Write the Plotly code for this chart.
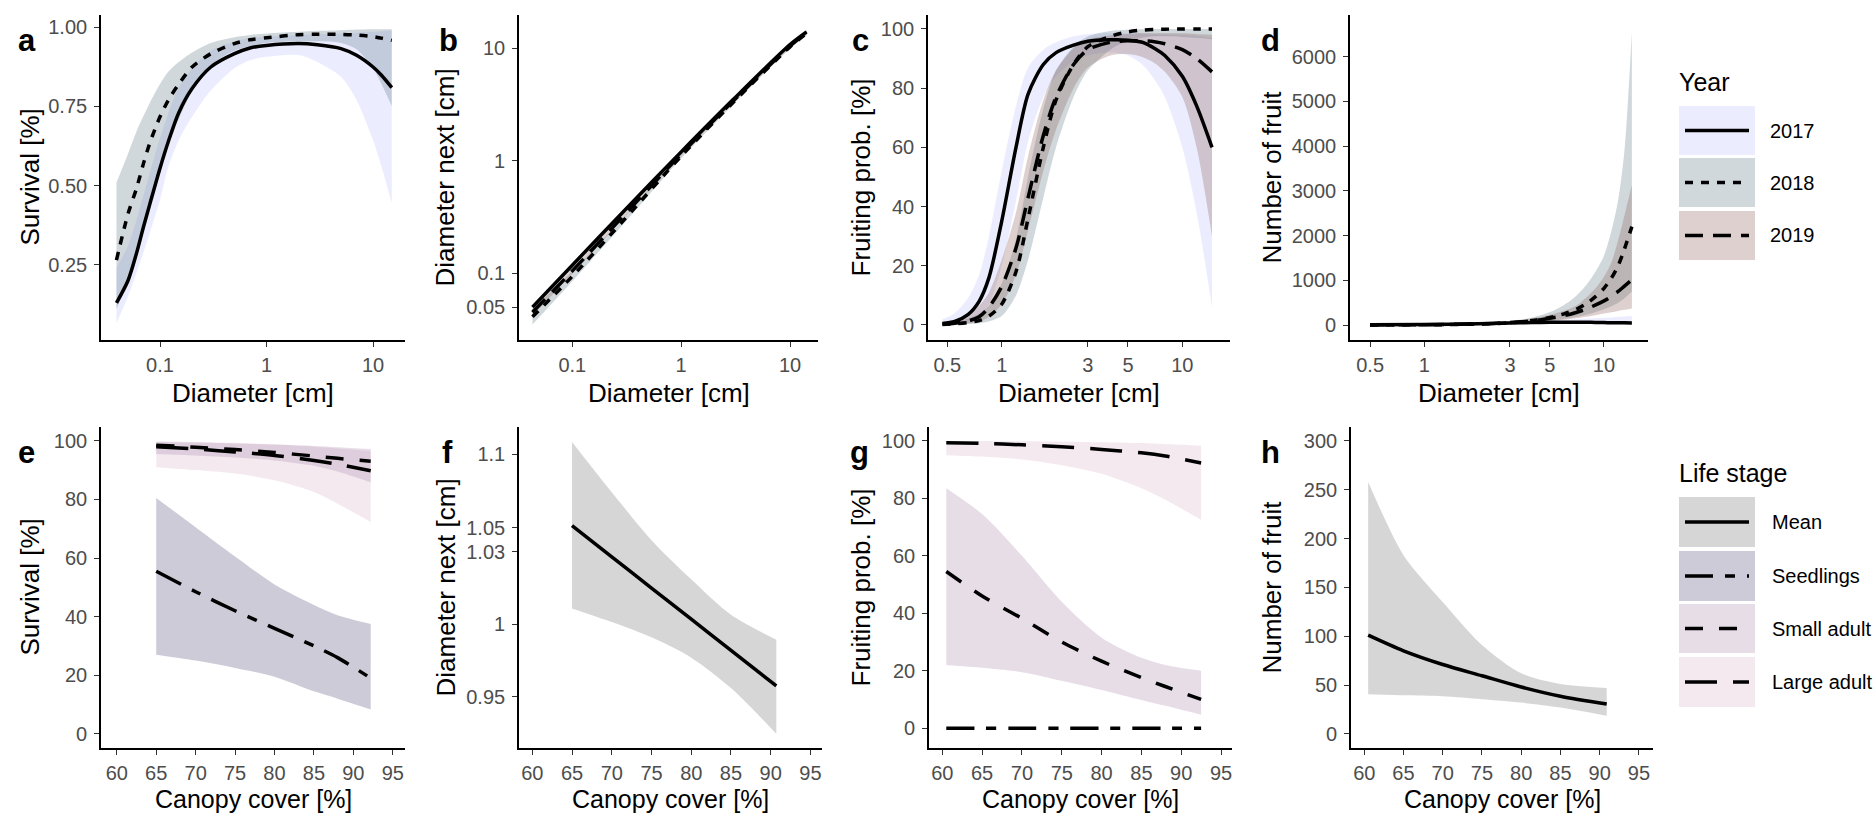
import plotly.graph_objects as go

W, H = 1876, 816

# ---------------- data ----------------
YEARS = ["2017", "2018", "2019"]
STAGES = ["Mean", "Seedlings", "Small adult", "Large adult"]

# panel a: survival vs diameter
A_X = [0.039, 0.05, 0.06, 0.07, 0.08, 0.1, 0.12, 0.15, 0.2, 0.3, 0.5, 0.7, 1, 2, 3, 5, 7, 10, 12, 15]
A_2017 = [0.13, 0.20, 0.285, 0.37, 0.44, 0.555, 0.64, 0.73, 0.806, 0.874, 0.916, 0.934, 0.942, 0.948, 0.944, 0.932, 0.911, 0.874, 0.848, 0.809]
A_2017_LO = [0.066, 0.15, 0.224, 0.29, 0.35, 0.455, 0.56, 0.643, 0.717, 0.80, 0.87, 0.895, 0.906, 0.912, 0.89, 0.843, 0.77, 0.643, 0.56, 0.444]
A_2017_HI = [0.24, 0.31, 0.39, 0.47, 0.54, 0.65, 0.73, 0.81, 0.87, 0.925, 0.955, 0.965, 0.97, 0.975, 0.978, 0.98, 0.982, 0.985, 0.987, 0.99]
A_2018 = [0.265, 0.41, 0.49, 0.57, 0.633, 0.717, 0.77, 0.82, 0.874, 0.916, 0.948, 0.96, 0.966, 0.976, 0.977, 0.977, 0.975, 0.97, 0.965, 0.958]
A_2018_LO = [0.11, 0.2, 0.3, 0.38, 0.45, 0.56, 0.64, 0.71, 0.8, 0.88, 0.925, 0.94, 0.95, 0.955, 0.955, 0.95, 0.93, 0.87, 0.82, 0.75]
A_2018_HI = [0.51, 0.6, 0.67, 0.72, 0.76, 0.82, 0.86, 0.89, 0.92, 0.95, 0.968, 0.975, 0.98, 0.985, 0.988, 0.99, 0.992, 0.993, 0.993, 0.993]

# panel b: diameter next vs diameter
B_X = [0.043, 0.1, 0.3, 1, 3, 10, 14.2]
B_2017 = [0.05, 0.118, 0.36, 1.2, 3.5, 10.8, 14]
B_2017_LO = [0.047, 0.112, 0.345, 1.16, 3.38, 10.4, 13.4]
B_2017_HI = [0.053, 0.124, 0.375, 1.24, 3.62, 11.2, 14.6]
B_2018 = [0.041, 0.094, 0.3, 1.1, 3.3, 10.3, 13.6]
B_2018_LO = [0.035, 0.085, 0.28, 1.05, 3.15, 9.9, 13]
B_2018_HI = [0.048, 0.104, 0.32, 1.15, 3.45, 10.7, 14.2]
B_2019 = [0.045, 0.105, 0.33, 1.15, 3.4, 10.5, 13.8]
B_2019_LO = [0.042, 0.099, 0.315, 1.11, 3.28, 10.1, 13.2]
B_2019_HI = [0.048, 0.111, 0.345, 1.19, 3.52, 10.9, 14.4]

# panel c: fruiting probability vs diameter
C_X = [0.47, 0.55, 0.65, 0.75, 0.85, 1.0, 1.2, 1.4, 1.7, 2, 2.5, 3, 4, 5, 6, 7, 8, 10, 12, 14.6]
C_2017 = [0.5, 1.2, 3.5, 8, 16, 35, 60, 78, 88, 92, 94.5, 95.8, 96.3, 96.2, 95.5, 93.5, 91, 84, 74, 60]
C_2017_LO = [0, 0.3, 1, 3, 7, 20, 42, 62, 77, 84, 89, 91, 92, 91, 88, 83, 77, 60, 38, 6]
C_2017_HI = [2, 4, 9, 17, 30, 52, 74, 87, 93, 95.5, 97.5, 98.2, 98.5, 98.5, 98.5, 98.3, 98.2, 98, 97.6, 97]
C_2018 = [0.2, 0.4, 0.8, 1.5, 3, 7, 18, 36, 60, 76, 88, 94, 97.5, 99, 99.6, 99.8, 99.9, 100, 100, 100]
C_2018_LO = [0, 0.1, 0.3, 0.6, 1.2, 3, 10, 22, 43, 60, 77, 86, 93, 96, 97, 97.5, 97.5, 97.3, 97, 96.5]
C_2018_HI = [0.6, 1.2, 2.2, 3.8, 6.5, 14, 29, 50, 73, 86, 94, 97.5, 99.3, 99.7, 99.9, 100, 100, 100, 100, 100]
C_2019 = [0.3, 0.6, 1.3, 2.8, 6, 13, 26, 43, 64, 77, 88, 93, 95.5, 96, 96, 95.7, 95, 93, 90, 85.5]
C_2019_LO = [0.05, 0.2, 0.5, 1.2, 2.8, 7, 17, 32, 52, 66, 80, 87, 91, 91.5, 90.5, 88.5, 85.5, 77, 60, 30]
C_2019_HI = [1, 1.8, 3.5, 6.5, 11, 22, 38, 57, 76, 86, 93.5, 96.5, 97.8, 98.3, 98.5, 98.5, 98.5, 98.5, 98.3, 98]

# panel d: number of fruit vs diameter
D_X = [0.5, 1, 2, 3, 4, 5, 6, 7, 8, 9, 10, 11, 12, 13, 14.3]
D_2017 = [5, 12, 30, 45, 55, 60, 62, 62, 60, 58, 55, 52, 50, 48, 45]
D_2017_LO = [2, 6, 15, 22, 25, 25, 24, 22, 20, 18, 16, 14, 12, 11, 10]
D_2017_HI = [10, 22, 50, 75, 95, 110, 120, 130, 140, 150, 160, 170, 180, 190, 200]
D_2018 = [1, 5, 20, 50, 100, 170, 250, 350, 480, 640, 820, 1050, 1330, 1700, 2200]
D_2018_LO = [0.5, 2.5, 10, 28, 55, 95, 135, 180, 230, 290, 350, 420, 500, 600, 750]
D_2018_HI = [3, 12, 40, 90, 170, 290, 450, 650, 900, 1200, 1550, 2100, 2800, 3900, 6550]
D_2019 = [2, 8, 25, 55, 95, 150, 210, 280, 360, 450, 540, 640, 750, 870, 1010]
D_2019_LO = [1, 4, 14, 32, 55, 85, 115, 150, 185, 220, 255, 285, 315, 340, 370]
D_2019_HI = [4, 14, 45, 90, 150, 230, 320, 430, 620, 830, 1080, 1400, 1900, 2450, 3130]

# panel e: survival vs canopy cover
E_X = [65, 70, 75, 80, 85, 88, 92.2]
E_SEED = [55.5, 48.5, 42, 36, 30, 26, 19]
E_SEED_LO = [27, 25, 22.5, 19.5, 14.5, 12, 8.3]
E_SEED_HI = [80.5, 70.5, 60.5, 51, 44, 40.5, 37.5]
E_SMALL = [98.5, 97.8, 97, 96, 94.8, 94, 93]
E_SMALL_LO = [95.5, 95, 94.3, 93.3, 91.5, 89.5, 85.8]
E_SMALL_HI = [99.6, 99.4, 99.1, 98.7, 98.2, 97.8, 97.2]
E_LARGE = [98, 97.2, 96.2, 95, 93.3, 92, 89.8]
E_LARGE_LO = [91, 90, 88.8, 86.5, 82.5, 78.5, 72.3]
E_LARGE_HI = [99.8, 99.6, 99.3, 98.8, 98, 97.4, 96.5]

# panel f: diameter next vs canopy cover (values in the panel's axis units)
F_X = [65, 70, 75, 80, 85, 90.7]
F_MEAN = [1.068, 1.0465, 1.025, 1.0035, 0.982, 0.9575]
F_LO = [1.0109, 1.0015, 0.991, 0.977, 0.956, 0.9245]
F_HI = [1.1257, 1.091, 1.058, 1.031, 1.0065, 0.9893]
F_TICKVALS = [0.95, 1.0, 1.05, 1.0666, 1.1173]
F_TICKTEXT = ["0.95", "1", "1.03", "1.05", "1.1"]

# panel g: fruiting probability vs canopy cover
G_X = [60.5, 65, 70, 75, 80, 85, 88, 92.5]
G_SEED = [0, 0, 0, 0, 0, 0, 0, 0]
G_SMALL = [54.5, 46, 38.2, 30, 23.3, 17.6, 14.5, 10]
G_SMALL_LO = [22, 21, 19.5, 16.5, 13.3, 9.8, 7.8, 4.7]
G_SMALL_HI = [83.5, 74.5, 60, 44, 31.5, 24.5, 22, 20]
G_LARGE = [99.3, 99.1, 98.6, 97.9, 97, 95.8, 94.7, 92.3]
G_LARGE_LO = [95, 94.5, 93.5, 91.5, 88.5, 83.5, 79.5, 72.5]
G_LARGE_HI = [99.9, 99.9, 99.8, 99.7, 99.5, 99.2, 98.9, 98.3]

# panel h: number of fruit vs canopy cover
H_X = [60.5, 65, 70, 75, 80, 85, 90.9]
H_MEAN = [101, 85, 71, 59.5, 48, 38.5, 30.5]
H_LO = [40.5, 39.5, 38.5, 35.5, 32, 27, 18.5]
H_HI = [258, 183, 135, 91, 62, 51, 47]

# ---------------- styles ----------------
FILL = {
    "2017": "rgba(188,195,255,0.3)",
    "2018": "rgba(98,125,138,0.3)",
    "2019": "rgba(142,98,92,0.3)",
    "Mean": "rgba(118,118,118,0.3)",
    "Seedlings": "rgba(92,82,125,0.3)",
    "Small adult": "rgba(175,142,175,0.3)",
    "Large adult": "rgba(215,182,202,0.3)",
}
DASH = {
    "2017": "solid", "2018": "8px,8px", "2019": "18px,10px",
    "Mean": "solid", "Seedlings": "28px,12px,10px,12px",
    "Small adult": "18px,16px", "Large adult": "32px,16px",
}
LW = 3.5
FONT = "Liberation Sans, Arial, sans-serif"

# panel boxes in pixels (left, right, top, bottom)
PANELS = [
    dict(key="a", box=(101, 405, 15, 340), xtype="log", xr=[-1.554, 1.30], yr=[0.013, 1.038],
         xt=[0.1, 1, 10], xtt=["0.1", "1", "10"], yt=[0.25, 0.5, 0.75, 1.0], ytt=["0.25", "0.50", "0.75", "1.00"],
         ytype="linear", xtitle="Diameter [cm]", ytitle="Survival [%]", ytx=29, lab=(27, 40)),
    dict(key="b", box=(519, 818, 15, 340), xtype="log", xr=[-1.49, 1.257], yr=[-1.593, 1.296],
         xt=[0.1, 1, 10], xtt=["0.1", "1", "10"], yt=[0.05, 0.1, 1, 10], ytt=["0.05", "0.1", "1", "10"],
         ytype="log", xtitle="Diameter [cm]", ytitle="Diameter next [cm]", ytx=444, lab=(448, 40)),
    dict(key="c", box=(928, 1230, 15, 340), xtype="log", xr=[-0.408, 1.264], yr=[-5.07, 104.7],
         xt=[0.5, 1, 3, 5, 10], xtt=["0.5", "1", "3", "5", "10"], yt=[0, 20, 40, 60, 80, 100],
         ytt=["0", "20", "40", "60", "80", "100"], ytype="linear", xtitle="Diameter [cm]",
         ytitle="Fruiting prob. [%]", ytx=860, lab=(860, 40)),
    dict(key="d", box=(1350, 1648, 15, 340), xtype="log", xr=[-0.413, 1.245], yr=[-335, 6932],
         xt=[0.5, 1, 3, 5, 10], xtt=["0.5", "1", "3", "5", "10"], yt=[0, 1000, 2000, 3000, 4000, 5000, 6000],
         ytt=["0", "1000", "2000", "3000", "4000", "5000", "6000"], ytype="linear", xtitle="Diameter [cm]",
         ytitle="Number of fruit", ytx=1271, lab=(1270, 40)),
    dict(key="e", box=(101, 405, 427, 748), xtype="linear", xr=[58.0, 96.55], yr=[-4.83, 104.7],
         xt=list(range(60, 96, 5)), xtt=[str(v) for v in range(60, 96, 5)], yt=[0, 20, 40, 60, 80, 100],
         ytt=["0", "20", "40", "60", "80", "100"], ytype="linear", xtitle="Canopy cover [%]",
         ytitle="Survival [%]", ytx=29, lab=(26, 452)),
    dict(key="f", box=(519, 822, 427, 748), xtype="linear", xr=[58.33, 96.45], yr=[0.9147, 1.136],
         xt=list(range(60, 96, 5)), xtt=[str(v) for v in range(60, 96, 5)], yt=F_TICKVALS, ytt=F_TICKTEXT,
         ytype="linear", xtitle="Canopy cover [%]", ytitle="Diameter next [cm]", ytx=445, lab=(447, 452)),
    dict(key="g", box=(929, 1232, 427, 748), xtype="linear", xr=[58.33, 96.38], yr=[-6.9, 104.8],
         xt=list(range(60, 96, 5)), xtt=[str(v) for v in range(60, 96, 5)], yt=[0, 20, 40, 60, 80, 100],
         ytt=["0", "20", "40", "60", "80", "100"], ytype="linear", xtitle="Canopy cover [%]",
         ytitle="Fruiting prob. [%]", ytx=860, lab=(859, 452)),
    dict(key="h", box=(1351, 1653, 427, 748), xtype="linear", xr=[58.31, 96.8], yr=[-14.5, 314.2],
         xt=list(range(60, 96, 5)), xtt=[str(v) for v in range(60, 96, 5)], yt=[0, 50, 100, 150, 200, 250, 300],
         ytt=["0", "50", "100", "150", "200", "250", "300"], ytype="linear", xtitle="Canopy cover [%]",
         ytitle="Number of fruit", ytx=1271, lab=(1270, 452)),
]

fig = go.Figure()


def ax_ids(i):
    return ("x", "y") if i == 1 else (f"x{i}", f"y{i}")


def ribbon(i, x, lo, hi, key):
    xa, ya = ax_ids(i)
    fig.add_trace(go.Scatter(x=x, y=lo, mode="lines", line=dict(width=0, shape="spline", smoothing=0.8),
                             hoverinfo="skip", showlegend=False, xaxis=xa, yaxis=ya))
    fig.add_trace(go.Scatter(x=x, y=hi, mode="lines", fill="tonexty", fillcolor=FILL[key],
                             line=dict(width=0, shape="spline", smoothing=0.8),
                             hoverinfo="skip", showlegend=False, xaxis=xa, yaxis=ya))


def curve(i, x, y, key):
    xa, ya = ax_ids(i)
    fig.add_trace(go.Scatter(x=x, y=y, mode="lines",
                             line=dict(color="black", width=LW, dash=DASH[key], shape="spline", smoothing=0.8),
                             hoverinfo="skip", showlegend=False, xaxis=xa, yaxis=ya))


# a
ribbon(1, A_X, A_2017_LO, A_2017_HI, "2017")
ribbon(1, A_X, A_2018_LO, A_2018_HI, "2018")
curve(1, A_X, A_2017, "2017")
curve(1, A_X, A_2018, "2018")
# b
ribbon(2, B_X, B_2017_LO, B_2017_HI, "2017")
ribbon(2, B_X, B_2018_LO, B_2018_HI, "2018")
ribbon(2, B_X, B_2019_LO, B_2019_HI, "2019")
curve(2, B_X, B_2019, "2019")
curve(2, B_X, B_2018, "2018")
curve(2, B_X, B_2017, "2017")
# c
ribbon(3, C_X, C_2017_LO, C_2017_HI, "2017")
ribbon(3, C_X, C_2018_LO, C_2018_HI, "2018")
ribbon(3, C_X, C_2019_LO, C_2019_HI, "2019")
curve(3, C_X, C_2017, "2017")
curve(3, C_X, C_2018, "2018")
curve(3, C_X, C_2019, "2019")
# d
ribbon(4, D_X, D_2017_LO, D_2017_HI, "2017")
ribbon(4, D_X, D_2018_LO, D_2018_HI, "2018")
ribbon(4, D_X, D_2019_LO, D_2019_HI, "2019")
curve(4, D_X, D_2018, "2018")
curve(4, D_X, D_2019, "2019")
curve(4, D_X, D_2017, "2017")
# e
ribbon(5, E_X, E_SEED_LO, E_SEED_HI, "Seedlings")
ribbon(5, E_X, E_LARGE_LO, E_LARGE_HI, "Large adult")
ribbon(5, E_X, E_SMALL_LO, E_SMALL_HI, "Small adult")
curve(5, E_X, E_SEED, "Seedlings")
curve(5, E_X, E_SMALL, "Small adult")
curve(5, E_X, E_LARGE, "Large adult")
# f
ribbon(6, F_X, F_LO, F_HI, "Mean")
curve(6, F_X, F_MEAN, "Mean")
# g
ribbon(7, G_X, G_SMALL_LO, G_SMALL_HI, "Small adult")
ribbon(7, G_X, G_LARGE_LO, G_LARGE_HI, "Large adult")
curve(7, G_X, G_SEED, "Seedlings")
curve(7, G_X, G_SMALL, "Small adult")
curve(7, G_X, G_LARGE, "Large adult")
# h
ribbon(8, H_X, H_LO, H_HI, "Mean")
curve(8, H_X, H_MEAN, "Mean")

layout = dict(width=W, height=H, margin=dict(l=0, r=0, t=0, b=0),
              paper_bgcolor="white", plot_bgcolor="white", showlegend=False,
              font=dict(family=FONT, color="black"))
annotations = []
shapes = []


def px_x(v):
    return v / W


def px_y(v):
    return 1 - v / H


for i, p in enumerate(PANELS, start=1):
    l, r, t, b = p["box"]
    xa, ya = ax_ids(i)
    common = dict(showline=True, linecolor="black", linewidth=1.6, ticks="outside", ticklen=5,
                  tickwidth=1.2, tickcolor="#333333", showgrid=False, zeroline=False,
                  tickfont=dict(family=FONT, size=20, color="#4D4D4D"))
    layout["xaxis" if i == 1 else f"xaxis{i}"] = dict(
        domain=[px_x(l), px_x(r)], anchor=ya, type=p["xtype"], range=p["xr"],
        tickmode="array", tickvals=p["xt"], ticktext=p["xtt"], ticklabelstandoff=1, **common)
    layout["yaxis" if i == 1 else f"yaxis{i}"] = dict(
        domain=[px_y(b), px_y(t)], anchor=xa, type=p["ytype"], range=p["yr"],
        tickmode="array", tickvals=p["yt"], ticktext=p["ytt"], ticklabelstandoff=3, **common)
    # axis titles
    top_row = t < 100
    annotations.append(dict(text=p["xtitle"], x=px_x((l + r) / 2), y=px_y(393 if top_row else 799),
                            xref="paper", yref="paper", showarrow=False, xanchor="center", yanchor="middle",
                            borderpad=0, font=dict(family=FONT, size=26 if top_row else 25, color="black")))
    annotations.append(dict(text=p["ytitle"], x=px_x(p["ytx"]), y=px_y((t + b) / 2), textangle=-90,
                            xref="paper", yref="paper", showarrow=False, xanchor="center", yanchor="middle",
                            borderpad=0, font=dict(family=FONT, size=26, color="black")))
    annotations.append(dict(text=f"<b>{p['key']}</b>", x=px_x(p["lab"][0]), y=px_y(p["lab"][1]),
                            xref="paper", yref="paper", showarrow=False, xanchor="center", yanchor="middle",
                            borderpad=0, font=dict(family=FONT, size=31, color="black")))


def legend(title, title_y, keys, tops, label_x):
    annotations.append(dict(text=title, x=px_x(1678), y=px_y(title_y), xref="paper", yref="paper",
                            showarrow=False, xanchor="left", yanchor="middle", borderpad=0,
                            font=dict(family=FONT, size=25, color="black")))
    for k, (y0, y1) in zip(keys, tops):
        shapes.append(dict(type="rect", xref="paper", yref="paper", x0=px_x(1679), x1=px_x(1755),
                           y0=px_y(y1), y1=px_y(y0), fillcolor=FILL[k], line=dict(width=0), layer="above"))
        yc = (y0 + y1) / 2
        shapes.append(dict(type="line", xref="paper", yref="paper", x0=px_x(1685), x1=px_x(1749),
                           y0=px_y(yc), y1=px_y(yc), line=dict(color="black", width=LW, dash=DASH[k]),
                           layer="above"))
        annotations.append(dict(text=k, x=px_x(label_x), y=px_y(yc), xref="paper", yref="paper",
                                showarrow=False, xanchor="left", yanchor="middle", borderpad=0,
                                font=dict(family=FONT, size=20, color="black")))


legend("Year", 82, YEARS, [(106, 155), (158, 207), (211, 260)], 1769)
legend("Life stage", 473, STAGES, [(497, 547), (551, 601), (604, 653), (657, 707)], 1771)

layout["annotations"] = annotations
layout["shapes"] = shapes
fig.update_layout(**layout)
fig.write_html("out.html")
